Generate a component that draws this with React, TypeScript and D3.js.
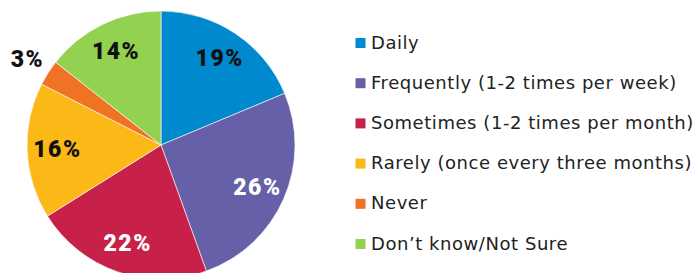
import React from "react";
import * as d3 from "d3";

const categories = [
  "Daily",
  "Frequently (1-2 times per week)",
  "Sometimes (1-2 times per month)",
  "Rarely (once every three months)",
  "Never",
  "Don\u2019t know/Not Sure",
];
const values = [18.7, 25.8, 21.6, 16.4, 3.1, 14.4];
const labels = ["19%", "26%", "22%", "16%", "3%", "14%"];
const colors = ["#0089CF", "#6560A8", "#C7214A", "#FBB817", "#F07223", "#93D150"];
const labelColors = ["#111", "#fff", "#fff", "#111", "#111", "#111"];
const outsideLabel = [false, false, false, false, true, false];

const W = 696;
const H = 273;
const cx = 161;
const cy = 145;
const R = 134;

export default function App() {
  const data = categories.map((c, i) => ({ c, v: values[i], i }));
  const pie = d3.pie<any>().sort(null).value((d) => d.v);
  const arcs = pie(data);
  const arc = d3.arc<any>().innerRadius(0).outerRadius(R);
  const inLabel = d3.arc<any>().innerRadius(R * 0.78).outerRadius(R * 0.78);
  const outLabel = d3.arc<any>().innerRadius(R * 1.19).outerRadius(R * 1.19);
  const legendY = d3.scalePoint<string>().domain(categories).range([43, 244]);

  return (
    <svg
      width={W}
      height={H}
      style={{ position: "absolute", left: 0, top: 0, background: "#fff" }}
    >
      <g transform={`translate(${cx},${cy})`}>
        {arcs.map((a, i) => (
          <path key={i} d={arc(a) as string} fill={colors[i]} stroke="#fff" strokeWidth={0.6} />
        ))}
        {arcs.map((a, i) => {
          const [x, y] = (outsideLabel[i] ? outLabel : inLabel).centroid(a);
          return (
            <text
              key={"l" + i}
              x={x + 0.75}
              y={y}
              textAnchor="middle"
              dominantBaseline="central"
              fontFamily="Roboto, sans-serif"
              fontWeight={900}
              fontSize={23}
              letterSpacing={1.5}
              fill={labelColors[i]}
            >
              {labels[i]}
            </text>
          );
        })}
      </g>
      <g>
        {categories.map((c, i) => {
          const y = legendY(c) as number;
          return (
            <g key={c}>
              <rect x={355.5} y={y - 5} width={10} height={10} fill={colors[i]} />
              <text
                x={371}
                y={y + 5.5}
                fontFamily="'DejaVu Sans', sans-serif"
                fontSize={18}
                letterSpacing={0.55}
                fill="#222"
              >
                {c}
              </text>
            </g>
          );
        })}
      </g>
    </svg>
  );
}
